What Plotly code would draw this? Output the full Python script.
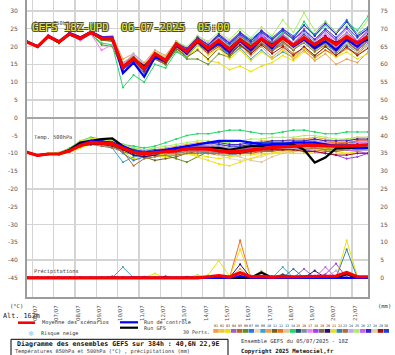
import plotly.graph_objects as go

# ---------------- data ----------------
HOURS = list(range(0, 385, 12))          # hours after 05/07 18Z run start
DAY_00Z = list(range(6, 385, 24))        # 00Z of each day
DAY_LABELS = ["06/07", "07/07", "08/07", "09/07", "10/07", "11/07", "12/07", "13/07",
              "14/07", "15/07", "16/07", "17/07", "18/07", "19/07", "20/07", "21/07"]
LEFT_TICKS = list(range(-45, 31, 5))
RIGHT_TICKS = list(range(0, 76, 5))
GRID_T = [5, 10, 15, 20, 25, 30, -10, -20, -30, -40]

PERT_COLORS = ["#f0a040", "#e8c840", "#f0e000", "#9a60c8", "#c86020", "#609020", "#2878e8", "#e8d8b0",
               "#40a0d0", "#e8a050", "#786020", "#f07028", "#e0c890", "#20d868", "#285070", "#8090a0",
               "#f080f0", "#a040f0", "#806848", "#281078", "#f0e010", "#3088a8", "#a87040", "#c0a8f8",
               "#a8f060", "#c860f0", "#4020c8", "#e0d0a8", "#a01010", "#2040d0"]

T850_MEAN = [21.3,20.0,22.9,21.3,23.6,22.3,24.0,22.3,22.3,14.2,16.8, 13.8,18.0,16.1,20.8,18.5,21.9,19.5,21.8,19.2,22.0,19.8, 22.2,20.2,22.4,20.4,22.5,20.5,22.5,20.6,22.8,21.0,22.8]
T850_CTRL = [21.4,20.1,23.0,21.5,23.8,22.6,24.2,22.7,22.6,12.5,15.5, 11.5,17.0,16.0,20.5,18.0,21.5,19.0,21.0,18.5,21.5,19.0, 22.0,19.5,22.5,20.0,22.0,19.5,21.5,19.0,22.0,20.0,22.5]
T850_GFS = [21.3,20.0,22.8,21.2,23.5,22.2,23.9,22.3,22.1,14.5,16.5, 14.5,17.5,16.0,20.5,18.5,21.5,19.0,21.5,19.5,22.0,20.0, 22.0,20.5,22.5,20.5,22.0,20.0,22.5,21.0,22.5,21.0,22.0]
T850_PERTS = [
    [21.5,20.2,23.2,21.6,23.9,22.6,24.3,22.8,23.0,16.5,18.0, 15.5,19.0,17.5,21.5,19.0,22.5,20.5,23.0,20.0,23.0,20.5, 22.5,20.0,22.0,19.5,21.5,19.0,21.0,19.5,22.0,20.5,23.0],
    [21.2,19.8,22.7,21.0,23.4,22.0,23.7,21.8,21.5,13.5,16.0, 13.0,17.0,15.5,20.0,18.0,21.0,18.5,20.0,17.0,19.5,17.5, 20.5,18.5,21.0,19.0,21.5,19.5,22.0,20.0,22.5,20.5,23.0],
    [21.3,20.0,22.8,21.2,23.5,22.2,23.8,22.0,21.8,15.0,16.5, 14.0,17.5,15.5,19.5,17.0,19.5,16.0,15.5,13.5,14.5,13.0, 14.5,15.5,17.5,16.0,18.5,16.5,19.0,17.0,19.5,17.5,20.0],
    [21.4,20.1,23.0,21.4,23.7,22.4,24.1,22.5,22.8,14.8,17.5, 14.5,18.5,16.5,21.0,19.0,22.5,20.0,23.0,20.5,23.5,21.0, 24.0,21.5,24.5,22.0,25.0,22.0,24.5,21.5,24.0,21.5,24.5],
    [21.2,19.9,22.8,21.2,23.5,22.0,23.8,22.0,21.5,13.0,15.5, 12.5,16.5,15.0,19.5,17.5,20.5,18.0,20.0,17.5,20.5,18.5, 21.0,19.0,20.5,18.0,19.5,17.0,19.0,17.5,19.5,18.0,20.5],
    [21.3,20.0,22.6,20.9,23.2,21.8,23.5,20.5,20.0,13.5,16.0, 13.0,17.0,15.0,19.0,16.5,16.5,15.0,18.0,17.0,20.0,18.5, 21.5,19.5,22.0,19.5,21.0,18.5,20.5,18.5,21.0,19.0,21.5],
    [21.5,20.2,23.1,21.5,23.8,22.5,24.2,22.6,22.5,14.0,16.5, 13.5,17.5,16.5,21.5,19.5,22.5,20.5,23.0,21.0,24.0,22.0, 24.5,22.5,25.0,23.0,26.0,23.5,27.0,24.0,27.5,23.5,25.5],
    [21.2,20.0,22.9,21.3,23.6,22.3,24.0,22.5,22.5,15.5,17.5, 15.0,18.5,17.0,21.0,19.0,21.5,19.5,21.0,18.5,21.0,19.0, 21.5,19.5,22.0,20.5,23.0,21.0,22.5,20.5,22.0,20.5,22.0],
    [21.3,20.1,22.9,21.4,23.6,22.4,24.0,22.3,22.0,14.5,17.0, 14.0,17.5,16.0,20.5,18.0,21.0,18.5,20.5,17.5,19.5,16.5, 19.0,16.5,18.5,17.0,19.5,17.5,20.0,18.0,20.5,18.5,21.0],
    [21.4,20.0,23.0,21.3,23.7,22.4,24.2,22.6,22.8,15.5,17.5, 14.5,18.0,16.5,20.5,18.5,21.5,19.0,21.0,18.0,20.5,17.5, 20.0,17.0,19.5,16.5,19.0,16.0,18.0,15.0,16.5,15.5,18.5],
    [21.3,20.0,22.8,21.2,23.4,22.1,23.8,21.8,21.5,14.0,16.0, 13.5,17.0,15.5,19.5,17.0,19.0,16.5,19.5,17.5,20.5,18.0, 21.0,18.5,21.5,19.0,22.0,19.5,22.0,19.0,21.5,19.0,22.0],
    [21.3,20.0,23.0,21.4,23.7,22.4,24.1,22.4,22.4,14.5,17.0, 14.5,18.0,16.5,21.5,19.5,22.5,20.5,22.5,20.0,23.0,20.5, 23.0,21.0,23.5,21.0,23.0,20.5,23.0,21.0,23.5,21.5,24.0],
    [21.2,19.9,22.8,21.2,23.5,22.2,23.9,22.2,22.0,14.0,16.5, 14.0,17.5,16.0,20.0,18.0,21.5,19.0,21.5,19.5,22.0,19.5, 22.0,20.0,22.0,19.5,21.5,19.0,22.0,19.5,22.0,20.0,22.5],
    [21.3,20.0,22.7,21.0,23.3,21.8,23.5,21.0,20.5,8.5,12.0, 10.0,15.0,14.0,18.5,17.0,20.5,19.0,22.0,20.0,22.5,20.5, 23.0,21.0,24.0,22.0,27.0,23.0,26.0,23.5,27.0,24.5,28.5],
    [21.3,20.0,22.9,21.3,23.6,22.2,24.0,22.2,22.2,14.5,17.0, 14.0,18.0,16.0,20.5,18.5,21.5,19.5,22.0,19.5,22.5,20.0, 22.5,20.5,23.0,21.0,23.5,21.0,23.0,20.5,22.5,20.5,22.0],
    [21.4,20.1,23.0,21.5,23.8,22.5,24.2,22.5,22.6,15.0,17.5, 14.5,18.0,16.5,21.0,19.0,22.0,19.5,22.5,20.0,22.0,19.5, 21.5,19.0,21.0,19.0,21.5,19.5,22.0,20.0,22.5,20.5,23.0],
    [21.3,20.0,22.8,21.1,23.3,21.7,23.5,19.0,20.5,14.5,17.0, 15.0,18.5,17.0,21.5,19.5,23.0,21.0,23.5,21.5,24.0,21.5, 24.5,22.0,24.5,22.0,24.0,21.5,23.5,21.0,23.5,21.5,24.0],
    [21.2,19.9,22.9,21.3,23.6,22.3,24.0,22.5,22.5,14.0,16.5, 14.0,17.5,16.0,20.5,18.5,22.0,20.0,22.5,20.5,23.5,21.0, 23.5,21.0,23.5,21.0,24.0,21.5,24.5,22.0,25.0,21.5,24.5],
    [21.3,20.0,22.8,21.2,23.5,22.1,23.8,22.0,22.0,14.0,16.0, 13.0,16.5,15.0,19.5,17.5,20.5,18.5,21.0,18.5,21.5,19.0, 21.5,19.0,21.5,19.0,22.0,19.5,22.0,19.5,22.0,19.5,21.5],
    [21.3,20.1,23.0,21.4,23.7,22.4,24.1,22.4,22.3,13.5,16.0, 13.5,17.0,15.5,20.0,18.0,21.5,19.0,21.5,19.0,22.0,19.5, 22.5,20.0,22.5,20.0,22.5,20.5,23.0,20.5,23.0,21.0,23.5],
    [21.3,20.0,22.9,21.3,23.6,22.3,24.0,22.3,22.6,15.0,17.0, 14.5,17.5,16.0,20.0,17.5,20.5,17.5,19.5,16.5,19.0,16.0, 18.5,16.5,19.0,17.0,19.5,17.5,20.0,17.0,18.5,16.5,18.0],
    [21.3,20.0,22.9,21.3,23.6,22.3,24.0,22.3,22.0,14.0,16.5, 13.5,17.5,16.0,21.0,19.0,22.0,20.0,22.5,20.5,23.0,21.0, 23.0,21.0,23.0,20.5,22.5,20.5,22.5,20.5,23.0,21.0,23.0],
    [21.3,20.0,22.8,21.3,23.6,22.2,23.9,22.1,21.8,13.5,16.0, 13.5,17.0,15.5,20.0,18.0,21.0,18.5,21.0,18.5,21.0,18.5, 21.0,18.5,21.5,19.0,21.5,19.0,21.0,18.5,21.0,19.0,21.5],
    [21.4,20.1,23.1,21.5,23.8,22.5,24.3,22.7,23.0,15.0,18.0, 15.0,18.5,17.0,21.5,19.5,22.5,20.0,22.5,20.0,22.5,20.0, 23.0,20.5,23.5,21.0,24.0,21.5,24.0,21.0,23.5,20.5,23.0],
    [21.3,20.0,22.9,21.3,23.6,22.3,24.0,22.3,22.5,14.5,17.5, 14.5,18.5,17.0,21.5,20.0,23.0,21.5,24.0,22.0,25.0,22.5, 25.5,23.0,27.5,24.0,29.5,24.5,27.0,24.0,26.0,23.5,27.5],
    [21.3,20.0,22.9,21.4,23.7,22.3,24.0,22.2,22.0,14.0,16.5, 14.0,17.5,16.0,20.5,18.5,21.5,19.5,22.0,19.5,22.5,20.0, 23.0,20.5,23.5,20.5,23.0,20.0,22.5,20.0,22.0,19.5,21.5],
    [21.4,20.1,23.0,21.4,23.7,22.4,24.1,22.5,22.5,14.5,17.0, 14.0,18.0,16.5,21.0,19.5,22.5,20.5,23.5,21.0,24.0,21.5, 24.5,22.0,25.0,22.5,26.0,23.0,26.5,23.5,27.0,23.0,25.0],
    [21.2,19.9,22.8,21.2,23.5,22.2,23.9,22.2,22.2,14.5,17.0, 14.5,17.5,16.0,20.5,18.5,21.0,18.5,20.5,18.5,21.0,19.0, 21.5,19.5,22.0,19.5,21.5,19.5,21.5,19.0,21.0,18.5,20.5],
    [21.3,20.0,22.9,21.3,23.6,22.2,24.0,22.2,22.0,14.0,16.5, 13.5,17.0,15.5,20.0,18.0,21.0,18.5,20.5,18.0,20.5,18.0, 20.5,18.0,20.0,17.5,20.0,17.5,20.0,17.5,20.0,17.5,19.5],
    [21.3,20.0,23.0,21.4,23.7,22.4,24.1,22.4,22.4,13.5,16.0, 13.0,17.0,16.0,21.0,19.0,22.5,20.5,23.0,21.0,23.5,21.5, 24.0,22.0,24.5,22.0,24.5,22.0,25.0,22.5,25.5,22.5,25.0],
]

T500_MEAN = [-9.7,-10.6,-10.2,-10.2,-9.3,-7.8,-6.9,-7.0,-7.3,-8.5,-9.7, -10.1,-9.8,-9.7,-9.3,-8.7,-8.7,-8.8,-9.3,-9.6,-9.4,-9.0, -8.7,-8.4,-8.2,-8.0,-7.8,-7.7,-7.9,-8.0,-8.0,-7.8,-7.6]
T500_CTRL = [-9.7,-10.6,-10.2,-10.2,-9.2,-7.5,-6.5,-6.8,-7.0,-8.0,-9.5, -10.0,-9.5,-9.0,-8.5,-8.0,-7.5,-7.0,-6.5,-6.5,-6.5,-7.0, -7.5,-7.5,-7.5,-7.0,-7.0,-7.0,-7.5,-8.0,-8.0,-8.5,-8.5]
T500_GFS = [-9.7,-10.6,-10.2,-10.2,-9.0,-7.0,-6.5,-6.0,-5.8,-8.0,-9.5, -10.0,-9.5,-9.5,-9.0,-8.5,-8.5,-8.5,-8.5,-9.0,-8.5,-8.0, -8.0,-7.5,-7.5,-7.5,-9.0,-12.6,-11.2,-8.6,-8.5,-8.5,-8.5]
T500_PERTS = [
    [-9.7,-10.5,-10.0,-10.0,-9.0,-7.5,-6.5,-6.0,-6.5,-8.0,-9.0, -10.5,-9.5,-9.0,-8.5,-8.0,-8.0,-7.5,-8.0,-8.5,-8.0,-7.5, -7.0,-6.5,-6.5,-6.0,-6.0,-5.5,-6.0,-6.5,-6.0,-5.5,-5.5],
    [-9.6,-10.7,-10.3,-10.1,-9.5,-8.0,-7.0,-7.5,-8.0,-9.0,-10.0, -10.5,-10.5,-10.0,-10.0,-9.5,-9.0,-9.5,-10.0,-10.5,-10.0,-9.5, -9.5,-9.0,-9.0,-8.5,-8.5,-8.0,-8.5,-9.0,-9.0,-8.5,-8.5],
    [-9.8,-10.6,-10.3,-10.4,-9.8,-8.5,-7.5,-6.5,-7.0,-9.5,-11.5, -11.0,-10.5,-11.0,-10.5,-10.0,-10.5,-11.0,-11.5,-11.0,-10.5,-10.5, -10.0,-10.0,-9.5,-10.0,-10.0,-9.5,-9.0,-9.5,-10.0,-9.5,-9.0],
    [-9.7,-10.6,-10.2,-10.0,-9.0,-7.0,-6.0,-6.5,-7.0,-8.0,-9.5, -9.5,-9.0,-9.0,-8.5,-8.0,-8.0,-7.5,-8.0,-8.5,-8.5,-8.0, -7.5,-7.5,-7.0,-7.0,-6.5,-6.5,-7.0,-7.5,-7.0,-6.5,-6.5],
    [-9.7,-10.5,-10.1,-10.3,-9.5,-8.0,-7.5,-7.5,-7.5,-9.0,-10.5, -11.0,-10.5,-10.0,-10.0,-9.5,-9.5,-10.0,-10.5,-10.5,-10.0,-10.0, -9.5,-9.5,-9.0,-9.5,-9.0,-9.0,-9.5,-9.5,-9.0,-9.0,-9.0],
    [-9.7,-10.6,-10.2,-10.2,-9.2,-7.5,-6.5,-7.0,-8.0,-9.5,-10.5, -11.0,-10.5,-10.5,-11.5,-12.5,-11.0,-9.5,-9.5,-10.0,-9.5,-9.0, -9.0,-8.5,-8.5,-8.5,-8.0,-8.5,-9.0,-9.0,-8.5,-8.5,-8.0],
    [-9.8,-10.7,-10.3,-10.2,-9.5,-8.0,-7.0,-6.5,-7.5,-10.0,-12.0, -11.0,-10.0,-9.5,-9.0,-8.5,-8.5,-8.0,-8.5,-9.0,-9.0,-8.5, -8.0,-7.5,-7.5,-7.0,-7.0,-7.0,-7.5,-7.5,-7.0,-7.0,-7.0],
    [-9.7,-10.6,-10.2,-10.2,-9.3,-7.8,-7.0,-7.2,-7.5,-8.5,-9.5, -10.0,-10.0,-10.0,-9.5,-9.0,-9.0,-9.5,-10.5,-11.5,-12.0,-11.5, -11.0,-10.0,-9.5,-9.0,-9.0,-8.5,-8.5,-9.0,-9.0,-8.5,-8.5],
    [-9.7,-10.6,-10.2,-10.2,-9.3,-8.0,-7.5,-7.5,-8.5,-12.5,-11.0, -10.5,-10.0,-10.0,-9.5,-9.0,-9.5,-10.0,-10.0,-10.5,-10.0,-9.5, -9.5,-9.0,-9.0,-8.5,-8.5,-8.5,-8.5,-8.5,-9.0,-9.0,-9.0],
    [-9.6,-10.5,-10.1,-10.0,-9.0,-7.5,-6.5,-6.5,-6.5,-7.5,-8.5, -9.0,-9.0,-8.5,-8.0,-7.5,-7.0,-7.0,-7.5,-8.0,-7.5,-7.0, -6.5,-6.5,-6.5,-6.0,-6.0,-6.0,-6.5,-6.5,-6.0,-6.0,-6.0],
    [-9.7,-10.6,-10.2,-10.3,-9.5,-8.0,-7.0,-7.0,-7.5,-8.5,-10.0, -11.0,-12.0,-11.5,-11.0,-10.0,-9.5,-9.5,-10.0,-10.0,-9.5,-9.5, -9.5,-9.0,-9.0,-9.0,-8.5,-8.5,-8.5,-9.0,-9.0,-8.5,-8.0],
    [-9.7,-10.6,-10.2,-10.1,-9.2,-7.5,-6.5,-7.0,-7.0,-8.0,-9.5, -10.0,-9.5,-9.5,-9.0,-8.5,-8.5,-8.5,-9.0,-9.5,-9.0,-8.5, -8.0,-7.5,-7.5,-7.0,-7.0,-6.5,-7.0,-7.0,-7.0,-6.5,-6.5],
    [-9.7,-10.6,-10.2,-10.2,-9.3,-7.8,-7.0,-7.0,-7.5,-8.5,-9.5, -10.0,-10.0,-9.5,-9.5,-9.0,-9.0,-9.5,-10.0,-10.5,-11.0,-12.0, -12.5,-11.0,-10.0,-9.5,-9.0,-9.0,-9.0,-9.0,-8.5,-8.5,-8.5],
    [-9.7,-10.5,-10.0,-9.8,-8.5,-6.5,-5.5,-6.0,-6.5,-7.5,-8.0, -8.5,-8.0,-7.0,-6.0,-5.0,-4.5,-4.5,-4.0,-3.5,-3.5,-4.0, -4.5,-4.5,-4.0,-3.5,-3.5,-4.0,-4.5,-4.5,-4.0,-4.0,-4.0],
    [-9.7,-10.6,-10.2,-10.2,-9.3,-8.0,-7.0,-7.0,-7.0,-8.5,-10.0, -10.0,-9.5,-9.5,-9.0,-8.5,-8.0,-8.0,-8.5,-9.0,-9.5,-9.5, -9.0,-8.5,-8.0,-7.5,-7.5,-7.5,-8.0,-8.0,-8.0,-8.0,-8.0],
    [-9.7,-10.6,-10.2,-10.2,-9.4,-8.0,-7.5,-7.5,-8.0,-9.0,-10.0, -10.5,-10.0,-10.0,-10.0,-9.5,-9.5,-9.5,-10.0,-10.0,-10.0,-9.5, -9.0,-9.0,-8.5,-8.5,-8.0,-8.0,-8.0,-8.0,-8.5,-8.5,-8.5],
    [-9.7,-10.6,-10.2,-10.1,-9.0,-7.0,-6.5,-6.5,-6.5,-7.5,-9.0, -9.5,-9.5,-9.0,-8.5,-8.0,-8.0,-8.0,-8.5,-9.0,-8.5,-8.0, -8.0,-7.5,-7.5,-7.0,-7.0,-7.0,-7.0,-7.5,-7.5,-7.0,-7.0],
    [-9.7,-10.6,-10.3,-10.3,-9.5,-8.0,-7.0,-7.0,-7.5,-8.5,-10.0, -10.5,-10.0,-10.0,-9.5,-9.0,-9.0,-9.0,-9.5,-10.0,-9.5,-9.0, -8.5,-8.5,-8.5,-8.5,-9.0,-9.5,-10.0,-10.5,-11.5,-11.0,-10.0],
    [-9.7,-10.6,-10.2,-10.2,-9.3,-7.8,-7.0,-7.5,-7.5,-8.5,-9.5, -10.0,-10.0,-10.0,-9.5,-9.0,-8.5,-8.5,-9.0,-9.5,-9.0,-9.0, -8.5,-8.5,-8.0,-8.0,-8.0,-8.0,-8.0,-8.0,-8.0,-7.5,-7.5],
    [-9.7,-10.6,-10.2,-10.2,-9.3,-7.5,-6.5,-7.0,-7.5,-9.0,-10.5, -11.0,-10.5,-10.0,-9.5,-9.0,-8.5,-8.5,-9.0,-9.5,-9.5,-9.0, -8.5,-8.0,-8.0,-7.5,-7.5,-7.5,-7.5,-8.0,-8.0,-7.5,-7.5],
    [-9.6,-10.5,-10.0,-9.9,-8.8,-6.5,-5.8,-6.0,-7.0,-8.5,-9.5, -10.0,-10.0,-10.5,-10.5,-10.0,-11.0,-12.0,-13.0,-13.5,-12.5,-11.5, -10.5,-10.0,-9.5,-9.0,-9.0,-8.5,-8.5,-8.5,-8.0,-8.5,-8.5],
    [-9.7,-10.6,-10.2,-10.2,-9.3,-8.0,-7.0,-7.5,-7.5,-8.5,-9.5, -10.0,-10.0,-9.5,-9.0,-8.5,-8.5,-8.5,-9.0,-9.5,-9.0,-8.5, -8.5,-8.0,-8.0,-8.0,-7.5,-7.5,-7.5,-7.5,-7.5,-7.5,-7.5],
    [-9.7,-10.6,-10.2,-10.3,-9.5,-8.0,-7.5,-8.0,-8.5,-9.5,-13.5, -11.5,-11.0,-10.5,-10.5,-10.0,-10.0,-10.0,-10.0,-10.0,-10.0,-9.5, -9.5,-9.0,-9.0,-9.0,-9.0,-8.5,-9.0,-9.0,-9.0,-9.0,-9.0],
    [-9.7,-10.6,-10.2,-10.1,-9.0,-7.5,-6.5,-6.5,-7.0,-8.0,-9.0, -9.5,-9.0,-9.0,-8.5,-8.0,-7.5,-7.5,-8.0,-8.5,-8.0,-7.5, -7.5,-7.0,-7.0,-7.0,-6.5,-6.5,-7.0,-7.5,-8.5,-9.5,-9.0],
    [-9.7,-10.5,-10.1,-10.0,-9.0,-7.0,-6.0,-6.5,-6.5,-7.5,-8.5, -9.0,-8.5,-8.0,-7.5,-7.0,-6.5,-6.5,-7.0,-7.0,-6.5,-6.0, -6.0,-5.5,-5.5,-5.5,-5.0,-5.0,-5.5,-6.0,-6.0,-5.5,-5.5],
    [-9.7,-10.6,-10.2,-10.2,-9.3,-7.8,-7.0,-7.0,-7.5,-8.5,-9.5, -10.0,-9.5,-9.5,-9.0,-8.5,-8.5,-8.5,-9.0,-9.0,-9.0,-8.5, -8.0,-8.0,-8.0,-7.5,-7.5,-7.5,-8.0,-8.5,-9.0,-9.5,-10.0],
    [-9.7,-10.6,-10.2,-10.2,-9.3,-7.8,-6.8,-6.5,-7.0,-8.0,-9.0, -9.5,-9.5,-9.0,-8.5,-8.0,-7.5,-7.0,-7.0,-7.5,-7.5,-7.0, -7.0,-6.5,-6.5,-6.5,-6.5,-6.0,-6.5,-6.5,-6.5,-6.0,-6.0],
    [-9.7,-10.6,-10.2,-10.2,-9.3,-7.8,-7.0,-7.5,-7.5,-8.5,-9.5, -10.0,-10.0,-10.0,-9.5,-9.0,-9.0,-9.0,-9.5,-9.5,-9.5,-9.0, -9.0,-8.5,-8.5,-8.5,-8.5,-8.0,-8.0,-8.0,-8.0,-8.0,-8.0],
    [-9.7,-10.6,-10.2,-10.2,-9.4,-8.0,-7.5,-7.5,-8.0,-9.0,-10.0, -10.5,-10.0,-9.5,-9.5,-9.0,-9.0,-9.0,-9.5,-10.0,-10.0,-9.5, -9.0,-9.0,-9.0,-9.0,-9.5,-9.5,-10.0,-10.5,-10.5,-10.0,-10.0],
    [-9.7,-10.6,-10.2,-10.2,-9.2,-7.5,-6.5,-6.5,-7.0,-8.0,-9.0, -9.5,-9.0,-9.0,-8.5,-8.0,-7.5,-7.0,-7.5,-8.0,-8.0,-7.5, -7.0,-7.0,-7.0,-7.0,-7.0,-7.0,-7.5,-7.5,-7.5,-7.5,-7.5],
]

PRECIP_MEAN = [0,0,0,0,0,0,0,0,0,0.2,0, 0,0.2,0,0,0,0,0.3,0.6,0.2,1.4,0.3, 0.4,0.2,0.4,0.3,0.3,0.3,0.4,0.5,1.5,0.3,0.3]
PRECIP_CTRL = [0,0,0,0,0,0,0,0,0,0,0, 0,0,0,0,0,0,0,0,0,0.5,0, 0,0,0,0,0,0,0,0,0,0,0]
PRECIP_GFS = [0,0,0,0,0,0,0,0,0,0,0, 0,0,0,0,0,0,0,0,0,0,0, 1.5,0,0,0,0,0,0,0,1.0,0,0]
PRECIP_PERTS = [
    [0,0,0,0,0,0,0,0,0,0,0, 0,0,0,0,0,0,0.3,0,0,1.5,0, 0,0,0,0,0,0,0,0,0,0,0],
    [0,0,0,0,0,0,0,0,0,0,0, 0,0,0,0,0,0,0,0,0,0,0, 0,0,0,0,0,0,0,0,0,0,0],
    [0,0,0,0,0,0,0,0,0,0,0, 0,0,0,0,0,0,0.8,4.8,0.5,0,0, 0,0,0,0,0,0,0,0,0,0,0],
    [0,0,0,0,0,0,0,0,0,0,0, 0,0,0,0,0,0,0,0,0,0,0, 0,0,0,0,2.5,0,0,0,0,0,0],
    [0,0,0,0,0,0,0,0,0,0,0, 0,0,0,0,0,0,0,0,0.5,0,0, 0,0,0,0,0,0,0,0,0,0,0],
    [0,0,0,0,0,0,0,0,0,0,0, 0,0,0,0,0,0,0,0,0,0,0, 0,0,0,0,0,0,0,0,0,0,0],
    [0,0,0,0,0,0,0,0,0.4,0,0.3, 0,0,0,0,0,0,0,0,0,0,0, 0,0,0,0,0,0,0,0,0,0,0],
    [0,0,0,0,0,0,0,0,0,0,0, 0,0,0,0,0,0,0,0,0,0,0, 0,0,0,0,0,0,0,0,0,0,0],
    [0,0,0,0,0,0,0,0,0,3.0,0, 0,0,0,0,0,0,0,0,0,0,0, 0,0,3.0,0,0,0,0,0,0,0,0],
    [0,0,0,0,0,0,0,0,0,0,0, 0,0,0,0,0,0,0,0,0,2.5,0, 0,0,0,0,0,0,0,0,0,0,0],
    [0,0,0,0,0,0,0,0,0,0,0, 0,0,0,0,0,0,0,0.6,0,0,0, 0,0,0,0,0,0,0,0,0,0,0],
    [0,0,0,0,0,0,0,0,0,0,0, 0,0,0,0,0,0,0,0,0,10.5,0, 0,0,0,0,0,0,0,0,0,0,0],
    [0,0,0,0,0,0,0,0,0,0,0, 0,0,0,0,0,0,0,0,0,0,0, 2.0,0,0,0,0,0,0,0,0,0,0],
    [0,0,0,0,0,0,0,0,0,0,0, 0,0,0,0,0,0,0,0,0,0,0.5, 0,0,0,0,0,0,0,0,0,0,0],
    [0,0,0,0,0,0,0,0,0,0,0, 0,0,0,0,0,0,0,0,0,0,0, 0,0,1.0,0,0,0,0,0,0,0,0],
    [0,0,0,0,0,0,0,0,0,0,0, 0,0,0,0,0,0,0,0,0,0,0.6, 0,0,0,0,0,0,0,0,0,0,0],
    [0,0,0,0,0,0,0,0,0,0,0, 0,0,0,0,0,0,0,0,0,0,0, 0,0,0,0,0,0.6,0,0,0,0,0],
    [0,0,0,0,0,0,0,0,0,0,0, 0,0,0,0,0,0,0,0,0,0,0, 0,0,0,0,0,0,1.0,4.0,0,0,0],
    [0,0,0,0,0,0,0,0,0,0,0, 0,0,0,0,0,0,0,0,0,0,0, 1.5,0,0,0,0,0,0,0,0,0,0],
    [0,0,0,0,0,0,0,0,0,0,0, 0,0,0,0,0,0,0,0,0,3.8,0, 0,0,0,0,0,2.0,0,0,1.5,0,0],
    [0,0,0,0,0,0,0,0,0,0,0, 0,1.2,0,0,0,0,0,0,0,8.0,0, 0,0,0,0,0,0,0,0,10.5,0.5,0],
    [0,0,0,0,0,0,0,0,0,0,0, 0,0,0,0,0,0,0,0,0,0,0, 0,0,0,2.5,0,0,0,0,8.0,0,0],
    [0,0,0,0,0,0,0,0,0,0,0, 0,0,0,0,0,0,0,0,0,0,0, 0,0.5,0,0,0,0,0,0,0,0,0],
    [0,0,0,0,0,0,0,0,0,0,0, 0,0,0,0,0,0,0,0,0,0,0, 0,0,0,0,0,0,0,2.0,0,0,0],
    [0,0,0,0,0,0,0,0,0,0,0, 0,0,0,0,0,0.8,0,0,0,0,0, 0,0,0,0,0,0,0,0,0,0,0],
    [0,0,0,0,0,0,0,0,0,0,0, 0,0,0,0,0,0,0,0,0,0,0, 0,0,0,0,0,0,3.0,0,0,0,0],
    [0,0,0,0,0,0,0,0,0,0,0, 0.3,0,0,0,0,0,0,0,0,0,0, 0,0,0,0,0,0,0,0,0,0,0],
    [0,0,0,0,0,0,0,0,0,0,0, 0,0,0,0,0,0,0,0,0,0,0, 0,0,0,0,0,0,0,0,0,0,0],
    [0,0,0,0,0,0,0,0,0,0,0, 0,0,0,0,0,0,0,0,0,0,0, 0,0,0,0,0,0,0,0,0,0,0],
    [0,0,0,0,0,0,0,0,0,0,0, 0,0,0.4,0,0.3,0,0,0,0,0,0, 0,0,0,0,0,0,0,0,0,0,0],
]

for name, s in [("T850_MEAN", T850_MEAN), ("T850_CTRL", T850_CTRL), ("T850_GFS", T850_GFS),
                ("T500_MEAN", T500_MEAN), ("T500_CTRL", T500_CTRL), ("T500_GFS", T500_GFS),
                ("PRECIP_MEAN", PRECIP_MEAN), ("PRECIP_CTRL", PRECIP_CTRL), ("PRECIP_GFS", PRECIP_GFS)]:
    assert len(s) == len(HOURS), name
for grp in (T850_PERTS, T500_PERTS, PRECIP_PERTS):
    for k, s in enumerate(grp):
        assert len(s) == len(HOURS), k

# ---------------- figure ----------------
Y_RANGE = [-50.4, 33.1]
SHIFT = 45  # right-hand scale offset
FONT = "DejaVu Sans Mono"
GRID = "#d4d4d4"
AXIS = "#9c9c9c"

fig = go.Figure()


def line(y, color, width, axis="y", markers=True):
    fig.add_trace(go.Scatter(
        x=HOURS, y=y, yaxis=axis, mode="lines+markers" if markers else "lines",
        line=dict(color=color, width=width), marker=dict(size=2.2, color=color),
        hoverinfo="skip", showlegend=False))


for k in range(30):
    line(T850_PERTS[k], PERT_COLORS[k], 1)
    line(T500_PERTS[k], PERT_COLORS[k], 1)
    line(PRECIP_PERTS[k], PERT_COLORS[k], 1, "y2")
for y850, y500, ypr, col, w in [(T850_GFS, T500_GFS, PRECIP_GFS, "#000000", 2.2),
                                (T850_CTRL, T500_CTRL, PRECIP_CTRL, "#0000ff", 2.2),
                                (T850_MEAN, T500_MEAN, PRECIP_MEAN, "#ff0000", 3.2)]:
    line(y850, col, w, markers=False)
    line(y500, col, w, markers=False)
    line(ypr, col, w, "y2", markers=False)

# dummy trace carrying the grid-only axis
fig.add_trace(go.Scatter(x=[None], y=[None], yaxis="y3", showlegend=False, hoverinfo="skip"))

L, R, B = 27, 27, 58
PW, PH = 395 - L - R, 355 - B


def xp(px):
    return (px - L) / PW


def yp(py):
    return (PH - py) / PH


tickfont = dict(family="DejaVu Sans", size=6, color="#555555")

fig.update_layout(
    width=395, height=355, margin=dict(l=L, r=R, t=0, b=B, pad=0),
    paper_bgcolor="white", plot_bgcolor="white", showlegend=False,
    xaxis=dict(range=[0, 384], tickmode="array", tickvals=[h + 3.4 for h in DAY_00Z], ticktext=DAY_LABELS,
               tickangle=-90, tickfont=dict(family="DejaVu Sans", size=5.5, color="#555555"),
               ticks="outside", ticklen=4, tickcolor="rgba(0,0,0,0)", showgrid=False,
               showline=True, linecolor=AXIS, linewidth=2, zeroline=False,
               minor=dict(tickmode="array", tickvals=DAY_00Z, showgrid=True, gridcolor=GRID, gridwidth=1.3, ticks="")),
    yaxis=dict(range=Y_RANGE, tickmode="array", tickvals=LEFT_TICKS, ticktext=[str(v) for v in LEFT_TICKS],
               tickfont=tickfont, ticks="outside", ticklen=6, tickcolor="rgba(0,0,0,0)",
               showgrid=False, zeroline=True, zerolinecolor="#a6a6a6", zerolinewidth=2,
               showline=True, linecolor=AXIS, linewidth=2),
    yaxis2=dict(overlaying="y", side="right", range=[Y_RANGE[0] + SHIFT, Y_RANGE[1] + SHIFT],
                tickmode="array", tickvals=RIGHT_TICKS, ticktext=[str(v) for v in RIGHT_TICKS],
                tickfont=tickfont, ticks="outside", ticklen=9, tickcolor="rgba(0,0,0,0)",
                showgrid=False, zeroline=False, showline=True, linecolor=AXIS, linewidth=2),
    yaxis3=dict(overlaying="y", range=Y_RANGE, tickmode="array", tickvals=GRID_T, showticklabels=False,
                ticks="", showgrid=True, gridcolor=GRID, gridwidth=1.3, zeroline=False, showline=False),
)

ann = []


def text(s, x, y, size, color="#333333", anchor="left", bold=False, family=FONT, **kw):
    ann.append(dict(text=s, x=xp(x), y=yp(y), xref="paper", yref="paper", showarrow=False,
                    xanchor=anchor, yanchor="middle",
                    font=dict(family=family, size=size, color=color, weight="bold" if bold else "normal", **kw)))


text("Temp. 850hPa", 32, 24, 5.3, "#444444")
text("Temp. 500hPa", 32, 137, 5.3, "#444444")
text("Précipitations", 32, 271.5, 5.3, "#444444")
text("GEFS 18Z-UPD  06-07-2025  05:00", 30, 27, 10.6, "#e6e62a",
     shadow="1px 1px 0 #4a4a30, -1px -1px 0 #4a4a30, 1px -1px 0 #4a4a30, -1px 1px 0 #4a4a30")
text("(°C)", 16, 305.7, 5.5, "#333333", "center")
text("(mm)", 384, 305.7, 5.5, "#333333", "center")
text("Alt. 162m", 1, 315.5, 6.8, "#222222")
text("Moyenne des scénarios", 40, 322.7, 5.3)
text("Run de contrôle", 141.5, 322.2, 5.2)
text("Run GFS", 141.5, 327.5, 5.2)
text("30 Perts.", 181, 331.5, 5.0)
text("❄", 31.3, 333.5, 7, "#7cc4f4", "center", family="DejaVu Sans")
text("Risque neige", 39.3, 333.7, 5.2)
text("Diagramme des ensembles GEFS sur 384h : 40,6N 22,9E", 14.5, 343.5, 6.6, "#111111", bold=True)
text("Températures 850hPa et 500hPa (°C) , précipitations (mm)", 13, 351.2, 5.2)
text("Ensemble GEFS du 05/07/2025 - 18Z", 239, 341.3, 5.4)
text("Copyright 2025 Meteociel,fr", 239, 351.3, 5.7, "#111111", bold=True)

SW_X0, SW_W = 213.3, 5.87
for k in range(30):
    text(f"{k + 1:02d}", SW_X0 + (k + 0.5) * SW_W, 326.4, 3.4, "#333333", "center")

shapes = []
for k in range(30):
    shapes.append(dict(type="rect", xref="paper", yref="paper",
                       x0=xp(SW_X0 + k * SW_W), x1=xp(SW_X0 + (k + 1) * SW_W - 0.4),
                       y0=yp(332.8), y1=yp(329.0), line=dict(width=0), fillcolor=PERT_COLORS[k]))
for x0, x1, y, col, w in [(18, 35, 322.7, "#ff0000", 2.6), (120, 138, 322.3, "#0000ff", 2.2),
                          (120, 138, 327.7, "#000000", 2.2)]:
    shapes.append(dict(type="line", xref="paper", yref="paper", x0=xp(x0), x1=xp(x1), y0=yp(y), y1=yp(y),
                       line=dict(color=col, width=w)))
shapes.append(dict(type="rect", xref="paper", yref="paper", x0=xp(11), x1=xp(228), y0=yp(339.3), y1=yp(357),
                   line=dict(color="#000000", width=1), fillcolor="white", layer="below"))

fig.update_layout(annotations=ann, shapes=shapes)
fig.write_html("out.html", config={"displayModeBar": False, "staticPlot": True},
               post_script="document.body.style.margin='0';document.body.style.padding='0';"
                           "document.body.style.overflow='hidden';")
